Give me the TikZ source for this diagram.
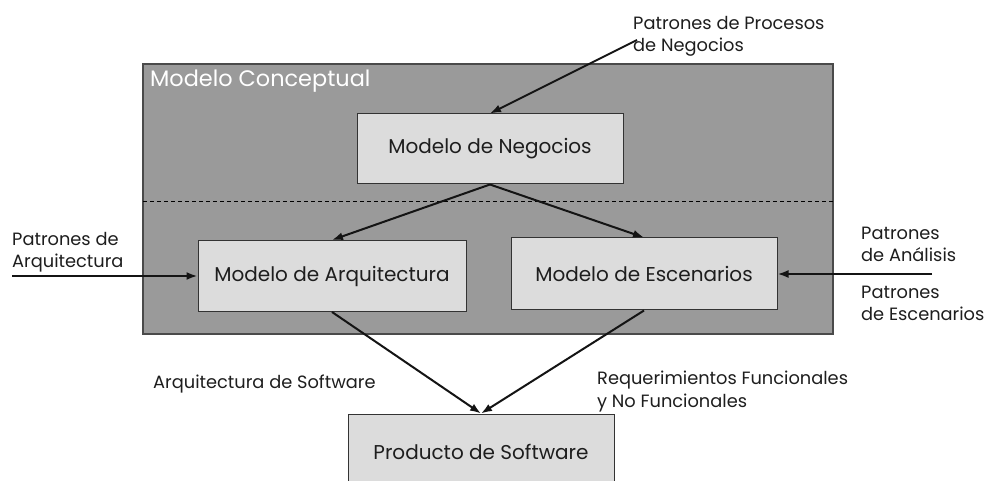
\documentclass[tikz,border=0pt]{standalone}
\usepackage{fontspec}
\setmainfont{Poppins}
\usetikzlibrary{arrows.meta}
\definecolor{outerfill}{HTML}{9A9A9A}
\definecolor{outerline}{HTML}{4A4A4A}
\definecolor{boxfill}{HTML}{DCDCDC}
\definecolor{boxline}{HTML}{333333}
\definecolor{txt}{HTML}{1E1E1E}
\begin{document}
\begin{tikzpicture}[x=1pt,y=-1pt,
  outerbox/.style={draw=outerline,fill=outerfill,line width=1.1pt,inner sep=0pt},
  mbox/.style={draw=boxline,fill=boxfill,line width=1pt,inner sep=0pt,
    text=txt,font=\fontsize{20}{24}\selectfont},
  lbl/.style={inner sep=0pt,anchor=base west,align=left,text=txt,
    font=\fontsize{17.8}{22}\selectfont},
  arr/.style={-{Latex[length=11pt,width=8pt]},line width=2pt,draw=black!92}]
\useasboundingbox (0,0) rectangle (986,481);
\clip (0,0) rectangle (986,481);
\fill[white] (0,0) rectangle (986,481);
% container
\node[outerbox,minimum width=690pt,minimum height=270pt] (mc) at (488,199) {};
\node[inner sep=0pt,anchor=base west,text=white,font=\fontsize{22.4}{26}\selectfont] (mct) at (150,87) {Modelo Conceptual};
\coordinate (dl) at (143,201);
\coordinate (dr) at (833,201);
\draw[dashed,line width=0.9pt,dash pattern=on 4pt off 3pt] (dl) -- (dr);
% boxes
\node[mbox,minimum width=266pt,minimum height=70pt] (neg) at (490,149) {Modelo de Negocios};
\node[mbox,minimum width=268pt,minimum height=71pt] (arq) at (332,276) {Modelo de Arquitectura};
\node[mbox,minimum width=266pt,minimum height=72pt] (esc) at (644,274) {Modelo de Escenarios};
\node[mbox,minimum width=266pt,minimum height=76pt,text depth=0pt] (prod) at (481,452) {Producto de Software};
% labels (anchor = baseline of last line)
\node[lbl] (ppn) at (633,52) {Patrones de Procesos\\de Negocios};
\node[lbl] (parq) at (12,268) {Patrones de\\Arquitectura};
\node[lbl] (pan) at (861,262) {Patrones\\de Análisis};
\node[lbl] (pes) at (861,320) {Patrones\\de Escenarios};
\node[lbl] (aso) at (153,388) {Arquitectura de Software};
\node[lbl,font=\fontsize{17.8}{23}\selectfont] (rfn) at (597,407) {Requerimientos Funcionales\\y No Funcionales};
% connector ends
\coordinate (ppnS) at (637,40);
\coordinate (parqS) at (12,276);
\coordinate (pesS) at (932,274);
% arrows
\draw[arr] (ppnS) -- (neg.north);
\draw[arr] (neg.south) -- (arq.north);
\draw[arr] (neg.south) -- (esc.north);
\draw[arr] (parqS) -- (arq.west);
\draw[arr] (pesS) -- (esc.east);
\draw[arr] (arq.south) -- (prod.north);
\draw[arr] (esc.south) -- (prod.north);
\end{tikzpicture}
\end{document}
